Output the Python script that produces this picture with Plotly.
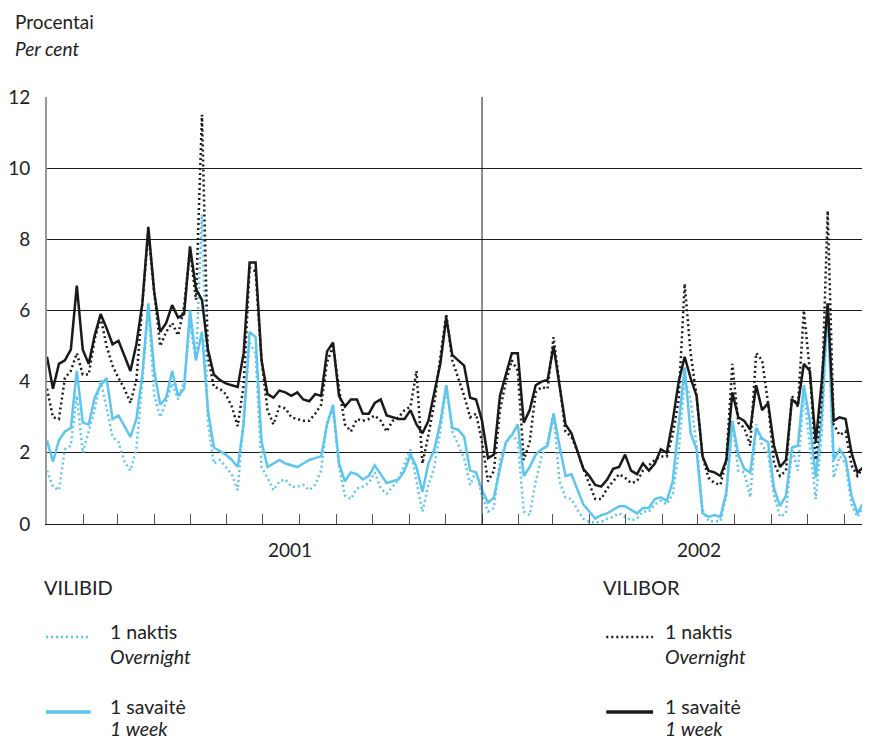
import plotly.graph_objects as go
import pandas as pd

# VILIBOR / VILIBID rates, %, sampled every 5 days from 2001-01-01
vilibor_1w = [4.7, 3.8, 4.5, 4.6, 4.9, 6.7, 4.9, 4.5, 5.3, 5.9, 5.5, 5.05, 5.15, 4.7, 4.3, 5.05, 6.2, 8.35, 6.5, 5.4,
              5.65, 6.15, 5.8, 5.9, 7.8, 6.6, 6.3, 4.9, 4.2, 4.05, 3.95, 3.9, 3.85, 4.8, 7.35, 7.35, 4.6, 3.65, 3.55, 3.75,
              3.7, 3.6, 3.7, 3.5, 3.45, 3.65, 3.6, 4.85, 5.1, 3.6, 3.3, 3.5, 3.5, 3.1, 3.1, 3.4, 3.5, 3.05, 3.0, 2.95,
              2.95, 3.2, 2.8, 2.55, 2.9, 3.7, 4.5, 5.8, 4.75, 4.6, 4.45, 3.55, 3.5, 2.9, 1.85, 1.95, 3.6, 4.2, 4.8, 4.8,
              2.85, 3.2, 3.9, 4.0, 4.05, 5.0, 3.9, 2.8, 2.55, 2.05, 1.55, 1.35, 1.1, 1.05, 1.25, 1.55, 1.6, 1.95, 1.5, 1.4,
              1.7, 1.5, 1.7, 2.1, 2.0, 2.9, 4.0, 4.7, 4.1, 3.6, 1.9, 1.5, 1.45, 1.35, 1.8, 3.7, 3.0, 2.9, 2.65, 3.9,
              3.2, 3.4, 2.2, 1.6, 1.8, 3.5, 3.35, 4.5, 4.3, 2.3, 4.0, 6.2, 2.9, 3.0, 2.95, 2.0, 1.45, 1.6, 1.7]
vilibor_on = [3.8, 3.0, 2.95, 4.1, 4.3, 4.8, 4.2, 4.2, 5.2, 5.8, 5.0, 4.45, 4.1, 3.8, 3.4, 4.05, 6.2, 8.2, 6.5, 5.0,
              5.4, 5.65, 5.3, 6.1, 7.7, 6.3, 11.5, 4.7, 3.85, 3.8, 3.65, 3.3, 2.75, 3.9, 7.2, 7.1, 4.6, 3.2, 2.8, 3.3,
              3.25, 3.0, 2.95, 2.9, 2.9, 3.1, 3.35, 4.55, 5.0, 3.8, 2.8, 2.6, 2.95, 2.9, 2.95, 3.05, 2.9, 2.6, 2.9, 3.0,
              3.2, 3.3, 4.3, 1.7, 2.5, 3.4, 4.7, 5.9, 4.6, 4.1, 3.6, 3.0, 3.1, 2.3, 1.2, 1.5, 3.2, 4.0, 4.6, 4.3,
              1.8, 2.3, 3.7, 3.85, 3.8, 5.25, 3.9, 2.6, 2.45, 2.05, 1.55, 1.15, 0.7, 0.7, 1.0, 1.2, 1.4, 1.3, 1.15, 1.2,
              1.5, 1.65, 1.8, 1.9, 1.9, 2.5, 3.5, 6.75, 4.8, 3.6, 1.9, 1.3, 1.15, 1.1, 1.8, 4.5, 2.85, 2.7, 2.2, 4.8,
              4.6, 3.4, 1.7, 1.35, 1.5, 3.6, 3.3, 6.0, 4.3, 1.8, 3.5, 8.8, 2.8, 2.5, 2.6, 1.65, 1.35, 1.6, 1.6]
vilibid_1w = [2.35, 1.75, 2.35, 2.6, 2.7, 4.3, 2.85, 2.8, 3.55, 3.9, 4.1, 2.95, 3.05, 2.75, 2.45, 2.95, 4.2, 6.2, 4.3, 3.35,
              3.55, 4.3, 3.6, 3.8, 6.0, 4.6, 5.4, 3.2, 2.15, 2.05, 1.95, 1.8, 1.6, 2.8, 5.4, 5.25, 2.3, 1.6, 1.7, 1.8,
              1.7, 1.65, 1.6, 1.7, 1.8, 1.85, 1.9, 2.8, 3.35, 1.7, 1.2, 1.45, 1.4, 1.25, 1.35, 1.65, 1.4, 1.15, 1.2, 1.25,
              1.5, 1.95, 1.6, 0.9, 1.7, 2.1, 2.85, 3.9, 2.7, 2.65, 2.45, 1.5, 1.45, 0.95, 0.6, 0.75, 1.55, 2.3, 2.5, 2.8,
              1.35, 1.6, 1.95, 2.1, 2.2, 3.1, 2.2, 1.35, 1.4, 1.0, 0.55, 0.35, 0.15, 0.25, 0.3, 0.4, 0.5, 0.5, 0.4, 0.3,
              0.45, 0.45, 0.7, 0.75, 0.65, 1.2, 2.8, 4.4, 2.55, 2.1, 0.3, 0.2, 0.25, 0.2, 0.9, 2.9, 1.95, 1.55, 1.45, 2.7,
              2.4, 2.3, 1.0, 0.5, 0.8, 2.15, 2.2, 3.9, 2.9, 1.3, 3.0, 6.2, 1.8, 2.1, 1.85, 0.8, 0.3, 0.6, 0.7]
vilibid_on = [1.5, 1.05, 0.95, 2.1, 2.2, 3.6, 2.0, 2.6, 3.2, 4.05, 3.2, 2.45, 2.3, 1.75, 1.5, 2.1, 4.0, 6.1, 3.6, 3.0,
              3.45, 3.95, 3.5, 4.0, 5.6, 4.6, 8.7, 2.85, 1.7, 1.8, 1.6, 1.4, 0.95, 3.0, 5.1, 4.8, 1.6, 1.3, 0.95, 1.2,
              1.25, 1.05, 1.05, 1.1, 0.95, 1.1, 1.5, 2.9, 3.2, 1.6, 0.8, 0.7, 1.0, 1.05, 1.15, 1.45, 1.0, 0.85, 1.05, 1.25,
              1.7, 2.1, 1.2, 0.35, 1.1, 1.6, 2.6, 3.9, 2.6, 2.2, 1.85, 1.1, 1.5, 0.8, 0.35, 0.45, 1.8, 2.25, 2.55, 2.3,
              0.35, 0.25, 1.2, 1.9, 2.3, 3.1, 1.2, 0.75, 0.7, 0.4, 0.15, 0.05, 0.05, 0.05, 0.15, 0.2, 0.3, 0.2, 0.1, 0.15,
              0.35, 0.35, 0.55, 0.65, 0.55, 0.85, 2.0, 4.1, 3.5, 2.2, 0.4, 0.08, 0.08, 0.08, 0.8, 2.9, 1.5, 1.45, 0.75, 2.8,
              2.2, 2.0, 0.8, 0.2, 0.3, 2.1, 1.5, 3.7, 2.2, 0.7, 2.5, 6.2, 1.3, 1.9, 1.7, 0.55, 0.2, 0.5, 0.7]

dates = pd.date_range("2001-01-01", periods=len(vilibor_1w), freq="5D")
year_labels = ["2001", "2002"]

BLUE = "#5ec5ee"
BLACK = "#1a1a1a"
TXT = "#222"
FONT = "Lato"
DOT = "2px,3px"

# the page adds an 8px body margin, so the figure is 8px smaller than the window
W, H = 862, 732
# plot box in window pixels: left 43, right 870, top 97, bottom 524
L, R, T, B = 35, 0, 89, 216


def px(x):
    return (x - 43) / (870 - 43)


def py(y):
    return (524 - y) / (524 - 97)


fig = go.Figure()
fig.add_trace(go.Scatter(x=dates, y=vilibid_on, mode="lines", line=dict(color=BLUE, width=2.5, dash=DOT)))
fig.add_trace(go.Scatter(x=dates, y=vilibid_1w, mode="lines", line=dict(color=BLUE, width=2.5)))
fig.add_trace(go.Scatter(x=dates, y=vilibor_on, mode="lines", line=dict(color=BLACK, width=2.5, dash=DOT)))
fig.add_trace(go.Scatter(x=dates, y=vilibor_1w, mode="lines", line=dict(color=BLACK, width=2.5)))

# year divider
fig.add_shape(type="line", x0="2002-01-01", x1="2002-01-01", y0=0, y1=12, xref="x", yref="y",
              line=dict(color=BLACK, width=1))

# year labels under the axis
for lab, xd in zip(year_labels, ["2001-07-24", "2002-07-02"]):
    fig.add_annotation(x=xd, y=py(549), xref="x", yref="paper", text=lab, showarrow=False,
                       font=dict(size=19, color=TXT), xanchor="center", yanchor="middle")

# axis title
fig.add_annotation(x=px(10), y=py(21), xref="paper", yref="paper", text="Procentai", showarrow=False,
                   font=dict(size=19, color=TXT), xanchor="left", yanchor="middle", borderpad=0)
fig.add_annotation(x=px(10), y=py(48), xref="paper", yref="paper", text="<i>Per cent</i>", showarrow=False,
                   font=dict(size=19, color=TXT), xanchor="left", yanchor="middle", borderpad=0)

# hand-made legend
legend_items = [
    (38, 105, 42, 87, "VILIBID", BLUE),
    (600, 663, 605, 652, "VILIBOR", BLACK),
]
for hx, tx, lx0, lx1, head, col in legend_items:
    fig.add_annotation(x=px(hx), y=py(587), xref="paper", yref="paper", text=head, showarrow=False,
                       font=dict(size=20, color=TXT), xanchor="left", yanchor="middle")
    fig.add_shape(type="line", xref="paper", yref="paper", x0=px(lx0), x1=px(lx1), y0=py(637), y1=py(637),
                  line=dict(color=col, width=2.5, dash=DOT))
    fig.add_shape(type="line", xref="paper", yref="paper", x0=px(lx0), x1=px(lx1), y0=py(712), y1=py(712),
                  line=dict(color=col, width=3.5))
    for yy, txt in [(631, "1 naktis"), (656, "<i>Overnight</i>"), (706, "1 savaitė"), (728, "<i>1 week</i>")]:
        fig.add_annotation(x=px(tx), y=py(yy), xref="paper", yref="paper", text=txt, showarrow=False,
                           font=dict(size=19.5, color=TXT), xanchor="left", yanchor="middle", borderpad=0)

fig.update_xaxes(type="date", range=["2001-01-01", "2002-11-22 12:00"], showgrid=False, zeroline=False,
                 showticklabels=False, ticks="inside", ticklen=10, tickwidth=1, tickcolor="#555",
                 tick0="2001-01-01", dtick="M1", showline=True, linecolor=BLACK, linewidth=1)
fig.update_yaxes(range=[0, 12], dtick=2, showgrid=True, gridcolor=BLACK, gridwidth=1, zeroline=False,
                 showline=True, linecolor="#999", linewidth=2, ticks="", ticklabelstandoff=11,
                 tickfont=dict(size=19, color=TXT))

fig.update_layout(
    width=W, height=H,
    margin=dict(l=L, r=R, t=T, b=B),
    showlegend=False,
    plot_bgcolor="white",
    paper_bgcolor="white",
    font=dict(family=FONT, color=TXT),
)

fig.write_html("out.html")
